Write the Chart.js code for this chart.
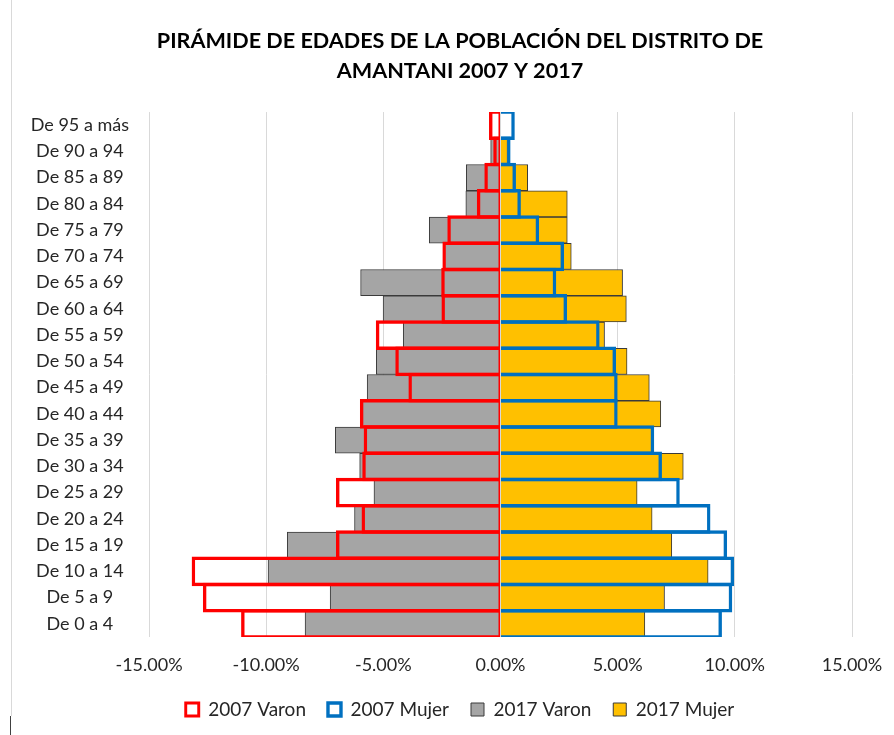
<!DOCTYPE html>
<html>
<head>
<meta charset="utf-8">
<script src="https://cdn.jsdelivr.net/npm/chart.js@4/dist/chart.umd.min.js"></script>
<style>
  html, body { margin: 0; padding: 0; background: #ffffff; }
  #wrap { position: relative; width: 894px; height: 735px; }
</style>
</head>
<body>
<div id="wrap"><canvas id="c" width="894" height="735"></canvas></div>
<script>
// Age groups (bottom to top)
const categories = [
  "De 0 a 4", "De 5 a 9", "De 10 a 14", "De 15 a 19", "De 20 a 24",
  "De 25 a 29", "De 30 a 34", "De 35 a 39", "De 40 a 44", "De 45 a 49",
  "De 50 a 54", "De 55 a 59", "De 60 a 64", "De 65 a 69", "De 70 a 74",
  "De 75 a 79", "De 80 a 84", "De 85 a 89", "De 90 a 94", "De 95 a más"
];

// Percent of population (men negative)
const varon2007 = [-11.07, -12.70, -13.18, -7.02, -5.93, -7.02, -5.90, -5.84, -6.00, -3.93,
                   -4.49, -5.32, -2.52, -2.53, -2.48, -2.27, -1.01, -0.69, -0.31, -0.49];
const mujer2007 = [9.45, 9.89, 9.97, 9.67, 8.96, 7.65, 6.89, 6.56, 5.00, 5.00,
                   4.93, 4.23, 2.84, 2.38, 2.71, 1.65, 0.87, 0.66, 0.43, 0.61];
const varon2017 = [-8.34, -7.27, -9.92, -9.10, -6.23, -5.40, -6.01, -7.05, -5.98, -5.69,
                   -5.30, -4.15, -5.01, -5.97, -2.40, -3.04, -1.48, -1.46, -0.42, 0.00];
const mujer2017 = [6.16, 7.00, 8.86, 7.31, 6.47, 5.83, 7.80, 6.53, 6.84, 6.35,
                   5.40, 4.44, 5.37, 5.21, 3.02, 2.85, 2.85, 1.16, 0.30, 0.00];

const seriesNames = ["2007 Varon", "2007 Mujer", "2017 Varon", "2017 Mujer"];
const xTicks = [-15, -10, -5, 0, 5, 10, 15];
const titleLines = ["PIRÁMIDE DE EDADES DE LA POBLACIÓN DEL DISTRITO DE", "AMANTANI 2007 Y 2017"];

const FONT = "Lato, 'Open Sans', 'Liberation Sans', sans-serif";
const PAD_L = 68, PAD_R = 42;

const frameLine = {
  id: 'frameLine',
  afterLayout(chart) {
    // widen the y-label clip box to the canvas edge so centred labels are not cut
    chart.scales.y.left = 0;
  },
  beforeDraw(chart) {
    const ctx = chart.ctx;
    ctx.save();
    ctx.strokeStyle = '#d9d9d9';
    ctx.lineWidth = 1;
    ctx.beginPath();
    ctx.moveTo(11.5, 0);
    ctx.lineTo(11.5, 716);
    ctx.stroke();
    ctx.strokeStyle = '#404040';
    ctx.beginPath();
    ctx.moveTo(10.5, 716);
    ctx.lineTo(10.5, 735);
    ctx.stroke();
    ctx.restore();
  }
};

new Chart(document.getElementById('c'), {
  type: 'bar',
  data: {
    labels: categories,
    datasets: [
      { label: seriesNames[0], data: varon2007, backgroundColor: 'rgba(255,255,255,0)', borderColor: '#ff0000',
        borderWidth: { top: 3.4, bottom: 3.4, left: 3.4, right: 1.5 }, borderSkipped: false,
        grouped: false, barPercentage: 1.13, categoryPercentage: 1, order: 0 },
      { label: seriesNames[1], data: mujer2007, backgroundColor: 'rgba(255,255,255,0)', borderColor: '#0070c0',
        borderWidth: 3.4, borderSkipped: 'start',
        grouped: false, barPercentage: 1.13, categoryPercentage: 1, order: 0 },
      { label: seriesNames[2], data: varon2017, backgroundColor: '#a5a5a5', borderColor: '#3a3a3a',
        borderWidth: 1, borderSkipped: 'start', grouped: false, barPercentage: 1, categoryPercentage: 1, order: 1 },
      { label: seriesNames[3], data: mujer2017, backgroundColor: '#ffc000', borderColor: '#3a3a3a',
        borderWidth: 1, borderSkipped: 'start', grouped: false, barPercentage: 1, categoryPercentage: 1, order: 1 }
    ]
  },
  options: {
    indexAxis: 'y',
    responsive: false,
    animation: false,
    devicePixelRatio: 1,
    layout: { padding: { left: PAD_L, right: PAD_R, top: 0, bottom: 6 } },
    scales: {
      x: {
        min: -15, max: 15,
        afterBuildTicks(scale) { scale.ticks = xTicks.map(v => ({ value: v })); },
        afterFit(scale) { scale.height = 41; scale.paddingLeft = 0; scale.paddingRight = 0; },
        ticks: {
          padding: 17,
          color: '#262626',
          font: { family: FONT, size: 18 },
          callback: (v) => Number(v).toFixed(2) + '%'
        },
        grid: { color: '#d9d9d9', lineWidth: 1, drawTicks: false },
        border: { display: false }
      },
      y: {
        reverse: true,
        afterFit(scale) { scale.width = 149 - PAD_L; },
        ticks: {
          padding: 20,
          crossAlign: 'center',
          color: '#262626',
          font: { family: FONT, size: 18 },
          autoSkip: false
        },
        grid: { display: false, drawTicks: false },
        border: { display: false }
      }
    },
    plugins: {
      title: {
        display: true,
        text: titleLines,
        color: '#000000',
        font: { family: FONT, size: 21.6, weight: 'bold', lineHeight: 1.39 },
        padding: { top: 26, bottom: 26 }
      },
      legend: {
        position: 'bottom',
        labels: {
          boxWidth: 13, boxHeight: 13,
          padding: 22,
          color: '#262626',
          font: { family: FONT, size: 19 }
        }
      },
      tooltip: { enabled: false }
    }
  },
  plugins: [frameLine]
});
</script>
</body>
</html>
